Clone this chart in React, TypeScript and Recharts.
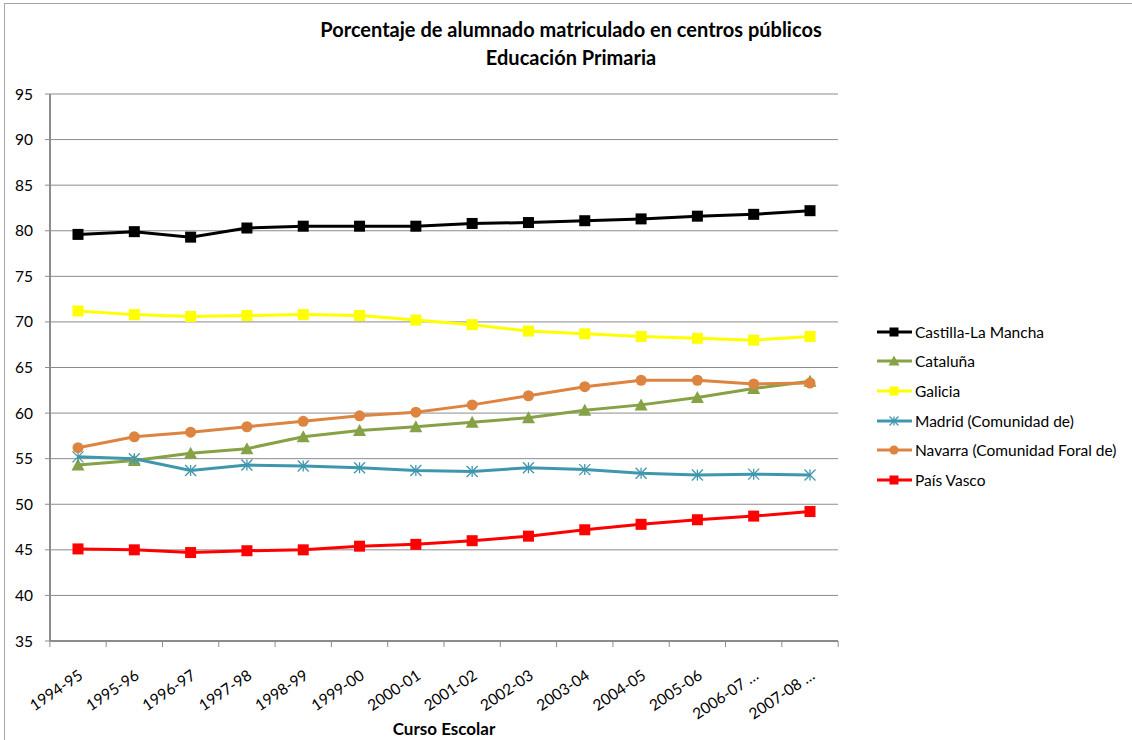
import { CartesianGrid, Line, LineChart, XAxis, YAxis } from "recharts";

const cursos = ["1994-95", "1995-96", "1996-97", "1997-98", "1998-99", "1999-00", "2000-01", "2001-02", "2002-03", "2003-04", "2004-05", "2005-06", "2006-07 …", "2007-08 …"];

const castilla = [79.6, 79.9, 79.3, 80.3, 80.5, 80.5, 80.5, 80.8, 80.9, 81.1, 81.3, 81.6, 81.8, 82.2];
const cataluna = [54.3, 54.8, 55.6, 56.1, 57.4, 58.1, 58.5, 59.0, 59.5, 60.3, 60.9, 61.7, 62.7, 63.5];
const galicia = [71.2, 70.8, 70.6, 70.7, 70.8, 70.7, 70.2, 69.7, 69.0, 68.7, 68.4, 68.2, 68.0, 68.4];
const madrid = [55.2, 55.0, 53.7, 54.3, 54.2, 54.0, 53.7, 53.6, 54.0, 53.8, 53.4, 53.2, 53.3, 53.2];
const navarra = [56.2, 57.4, 57.9, 58.5, 59.1, 59.7, 60.1, 60.9, 61.9, 62.9, 63.6, 63.6, 63.2, 63.3];
const paisVasco = [45.1, 45.0, 44.7, 44.9, 45.0, 45.4, 45.6, 46.0, 46.5, 47.2, 47.8, 48.3, 48.7, 49.2];

const yTicks = [35, 40, 45, 50, 55, 60, 65, 70, 75, 80, 85, 90, 95];

const font = "Lato, 'Open Sans', sans-serif";
const grid = "#8c8c8c";
const halfBand = 28.15;

type Marker = "square" | "triangle" | "star" | "circle";

const series: { key: string; name: string; color: string; marker: Marker; values: number[] }[] = [
  { key: "castilla", name: "Castilla-La Mancha", color: "#000000", marker: "square", values: castilla },
  { key: "cataluna", name: "Cataluña", color: "#86a146", marker: "triangle", values: cataluna },
  { key: "galicia", name: "Galicia", color: "#ffff00", marker: "square", values: galicia },
  { key: "madrid", name: "Madrid (Comunidad de)", color: "#3f97ae", marker: "star", values: madrid },
  { key: "navarra", name: "Navarra (Comunidad Foral de)", color: "#dd8441", marker: "circle", values: navarra },
  { key: "paisVasco", name: "País Vasco", color: "#ff0000", marker: "square", values: paisVasco },
];

const data = cursos.map((curso, i) => {
  const row: Record<string, string | number> = { curso };
  for (const s of series) row[s.key] = s.values[i];
  return row;
});

function markerShape(marker: Marker, color: string, cx: number, cy: number, size = 11) {
  const h = size / 2;
  if (marker === "square") return <rect x={cx - h} y={cy - h} width={size} height={size} fill={color} />;
  if (marker === "circle") return <circle cx={cx} cy={cy} r={h} fill={color} />;
  if (marker === "triangle") return <polygon points={`${cx},${cy - h - 1} ${cx + h + 1},${cy + h} ${cx - h - 1},${cy + h}`} fill={color} />;
  return (
    <g stroke={color} strokeWidth={1.3}>
      <line x1={cx} y1={cy - h} x2={cx} y2={cy + h} />
      <line x1={cx - h} y1={cy - h} x2={cx + h} y2={cy + h} />
      <line x1={cx - h} y1={cy + h} x2={cx + h} y2={cy - h} />
    </g>
  );
}

function makeDot(marker: Marker, color: string) {
  return (props: any) => {
    const { cx, cy, index } = props;
    if (cx == null || cy == null) return <g key={index} />;
    return <g key={index}>{markerShape(marker, color, cx, cy)}</g>;
  };
}

// excel style: tick marks between categories, rotated label under each category
function CursoTick(props: any) {
  const { x, y, payload, index } = props;
  const ax = x + 6;
  const ay = y + 37;
  const last = index === cursos.length - 1;
  return (
    <g>
      <line x1={x - halfBand} y1={y} x2={x - halfBand} y2={y + 6} stroke={grid} />
      {last && <line x1={x + halfBand} y1={y} x2={x + halfBand} y2={y + 6} stroke={grid} />}
      <text x={ax} y={ay} transform={`rotate(-34, ${ax}, ${ay})`} textAnchor="end" fontSize={15.5} fill="#000" fontFamily={font}>
        {payload.value}
      </text>
    </g>
  );
}

function LegendBox() {
  return (
    <div style={{ position: "absolute", left: 876, top: 317, fontFamily: font, fontSize: 15.5, color: "#000" }}>
      {series.map((s) => (
        <div key={s.key} style={{ display: "flex", alignItems: "center", height: 29.6 }}>
          <svg width={38} height={14} style={{ marginRight: 1 }}>
            <line x1={1} y1={7} x2={36} y2={7} stroke={s.color} strokeWidth={3} />
            {markerShape(s.marker, s.color, 18, 7, 9)}
          </svg>
          <span style={{ whiteSpace: "nowrap" }}>{s.name}</span>
        </div>
      ))}
    </div>
  );
}

export default function App() {
  return (
    <div style={{ position: "absolute", left: 0, top: 0, width: 1132, height: 740, background: "#fff", overflow: "hidden", fontFamily: font }}>
      <div style={{ position: "absolute", left: 4, top: 3, width: 1140, height: 760, border: "1px solid #a6a6a6", boxSizing: "border-box" }} />
      <div style={{ position: "absolute", left: 0, width: 1142, top: 15, textAlign: "center", fontWeight: 700, fontSize: 20, lineHeight: "28px", color: "#000" }}>
        Porcentaje de alumnado matriculado en centros públicos
        <br />
        Educación Primaria
      </div>
      <div style={{ position: "absolute", left: 344, width: 200, top: 718, textAlign: "center", fontWeight: 700, fontSize: 17, color: "#000" }}>
        Curso Escolar
      </div>
      <div style={{ position: "absolute", left: 0, top: 0 }}>
        <LineChart width={1132} height={740} data={data} margin={{ top: 94, right: 294, bottom: 33, left: 6 }}>
          <CartesianGrid vertical={false} stroke={grid} strokeWidth={1} />
          <XAxis
            dataKey="curso"
            interval={0}
            height={66}
            padding={{ left: 28, right: 28 }}
            tickSize={0}
            tickMargin={0}
            tickLine={false}
            axisLine={{ stroke: grid, strokeWidth: 2 }}
            tick={<CursoTick />}
          />
          <YAxis
            domain={[35, 95]}
            ticks={yTicks}
            interval={0}
            width={44}
            tickSize={5}
            tickMargin={12}
            axisLine={{ stroke: grid, strokeWidth: 2 }}
            tickLine={{ stroke: grid }}
            tick={{ fontSize: 15.5, fill: "#000", fontFamily: font }}
          />
          {series.map((s) => (
            <Line
              key={s.key}
              dataKey={s.key}
              name={s.name}
              stroke={s.color}
              strokeWidth={3}
              dot={makeDot(s.marker, s.color)}
              activeDot={false}
              isAnimationActive={false}
            />
          ))}
        </LineChart>
      </div>
      <LegendBox />
    </div>
  );
}
